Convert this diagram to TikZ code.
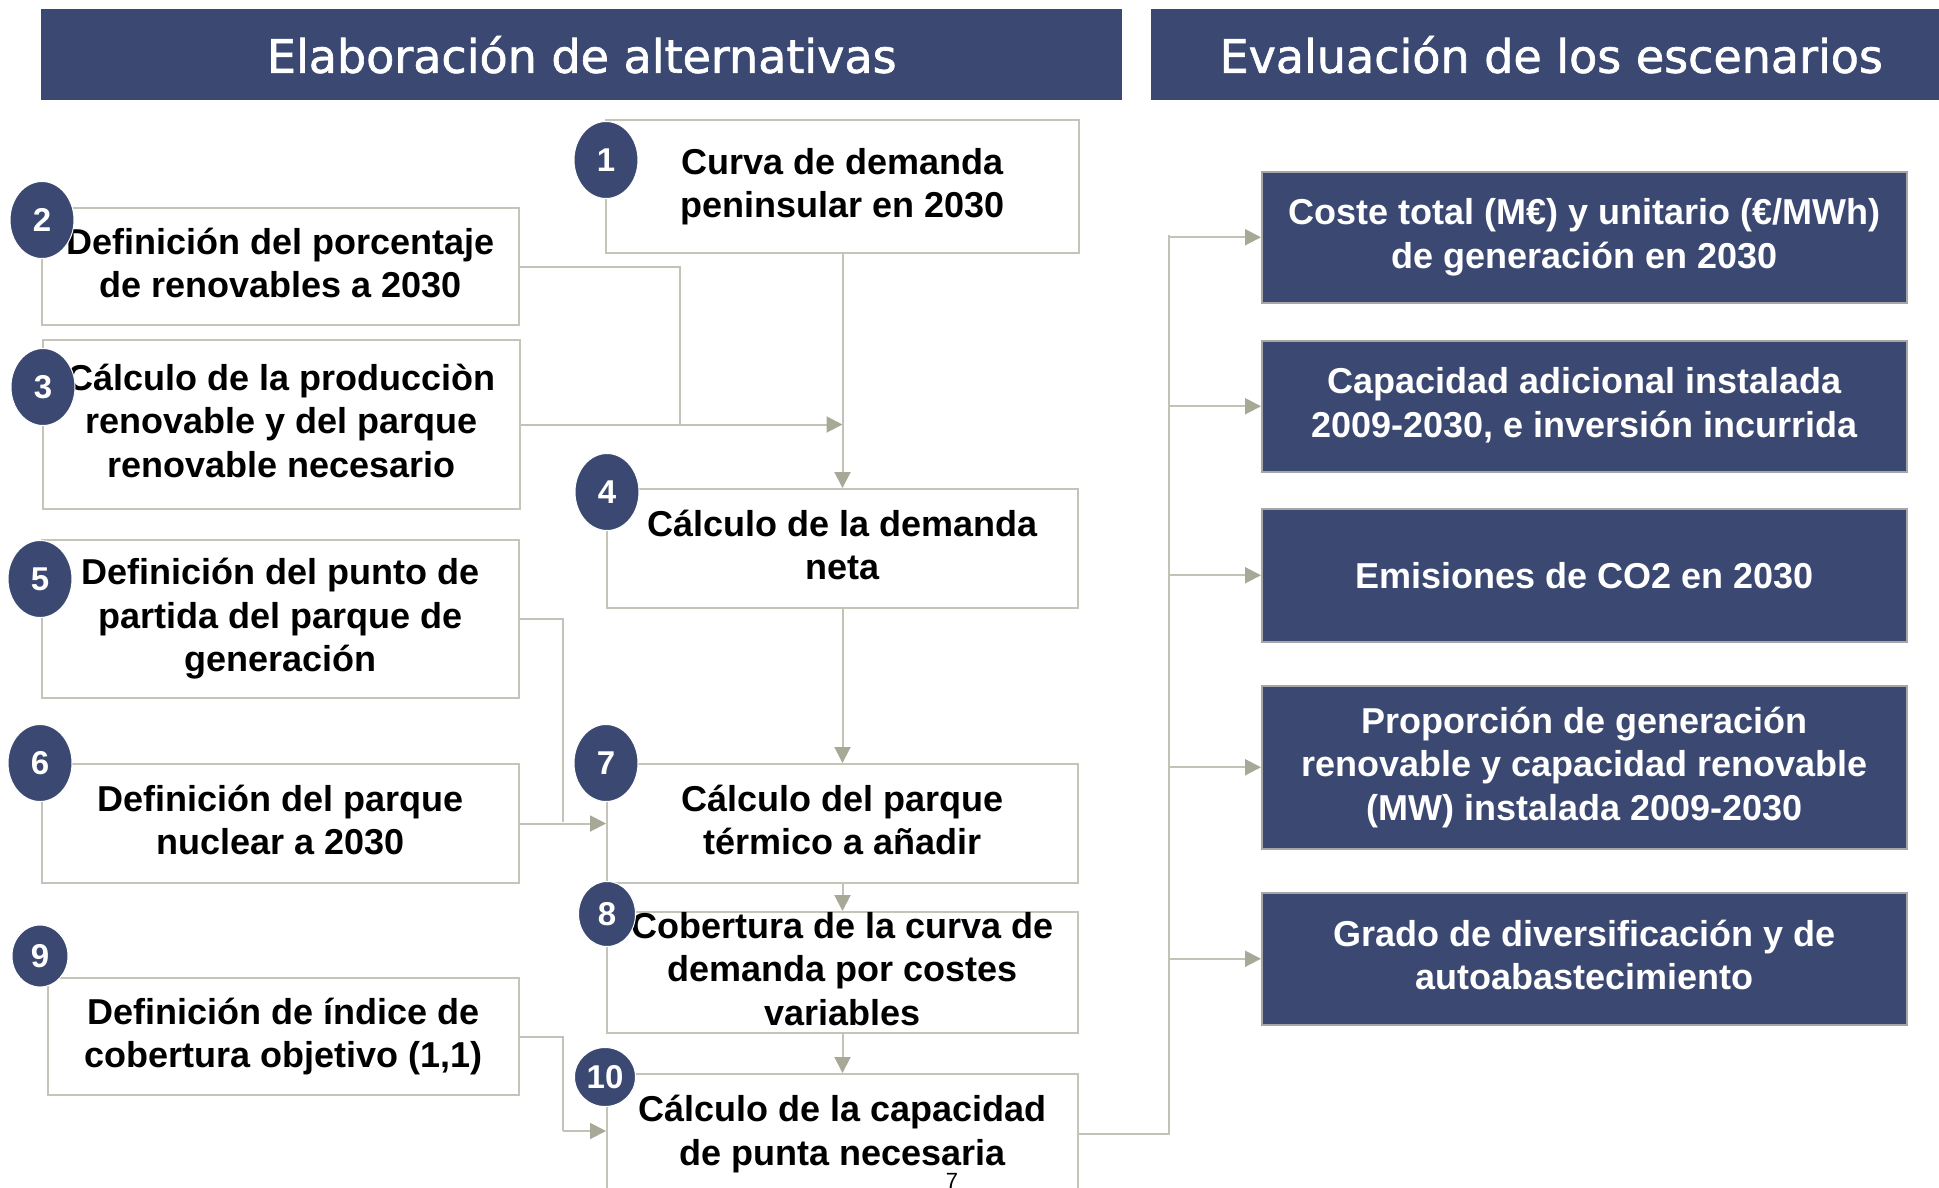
\documentclass[tikz,border=0pt]{standalone}
\usepackage{fontspec}
\setmainfont{Liberation Sans}
\newfontfamily\hdrfont[FakeBold=1.4]{DejaVu Sans}
\usetikzlibrary{shapes.geometric,arrows.meta}
\definecolor{navy}{HTML}{3B4972}
\definecolor{edgegray}{HTML}{C4C4B8}
\definecolor{linegray}{HTML}{C2C2B6}
\definecolor{tipgray}{HTML}{A8A896}
\newcommand{\lnstrut}{\rule[-7.5pt]{0pt}{40.5pt}}
\tikzset{
  hdrbox/.style={fill=navy, draw=none, anchor=north west, inner sep=0pt,
    text=white, font=\hdrfont\fontsize{46}{52}\selectfont},
  txtbase/.style={anchor=north west, inner sep=0pt, align=center,
    font=\bfseries\fontsize{36}{43.5}\selectfont,
    execute at begin node=\lnstrut, execute at end node=\lnstrut},
  wbox/.style={txtbase, fill=white, draw=edgegray, line width=2pt},
  nbox/.style={txtbase, fill=navy, draw=gray!70, line width=1.5pt, text=white, minimum width=645pt},
  numdot/.style={ellipse, fill=navy, draw=white, line width=1pt, inner sep=0pt,
    text=white, font=\bfseries\fontsize{33}{36}\selectfont},
  conn/.style={draw=linegray, line width=2pt},
  arr/.style={conn, -{Triangle[length=16pt, width=16pt, fill=tipgray, color=tipgray]}},
}
\begin{document}
\begin{tikzpicture}[x=1pt, y=-1pt]
\useasboundingbox (0,0) rectangle (1939,1187);
\clip (0,0) rectangle (1939,1187);

% headers
\node[hdrbox, minimum width=1081pt, minimum height=91pt] (h1) at (41,9) {Elaboración de alternativas};
\node[hdrbox, minimum width=800pt, minimum height=91pt] (h2) at (1151,9) {Evaluación de los escenarios};

% left column boxes
\node[wbox, minimum width=477pt, minimum height=117pt] (b2) at (41,207) {Definición del porcentaje\\de renovables a 2030};
\node[wbox, minimum width=477pt, minimum height=169pt] (b3) at (42,339) {Cálculo de la producciòn\\renovable y del parque\\renovable necesario};
\node[wbox, minimum width=477pt, minimum height=158pt] (b5) at (41,539) {Definición del punto de\\partida del parque de\\generación};
\node[wbox, minimum width=477pt, minimum height=119pt] (b6) at (41,763) {Definición del parque\\nuclear a 2030};
\node[wbox, minimum width=471pt, minimum height=117pt] (b9) at (47,977) {Definición de índice de\\cobertura objetivo (1,1)};

% middle column boxes
\node[wbox, minimum width=473pt, minimum height=133pt] (b1) at (605,119) {Curva de demanda\\peninsular en 2030};
\node[wbox, minimum width=471pt, minimum height=119pt] (b4) at (606,488) {Cálculo de la demanda\\neta};
\node[wbox, minimum width=471pt, minimum height=119pt] (b7) at (606,763) {Cálculo del parque\\térmico a añadir};
\node[wbox, minimum width=471pt, minimum height=119pt] (b8) at (606,911) {Cobertura de la curva de\\demanda por costes\\variables};
\node[wbox, minimum width=471pt, minimum height=120pt] (b10) at (606,1073) {Cálculo de la capacidad\\de punta necesaria};

% right column boxes
\node[nbox, minimum height=131pt] (r1) at (1261,171) {Coste total (M€) y unitario (€/MWh)\\de generación en 2030};
\node[nbox, minimum height=131pt] (r2) at (1261,340) {Capacidad adicional instalada\\2009-2030, e inversión incurrida};
\node[nbox, minimum height=133pt] (r3) at (1261,508) {Emisiones de CO2 en 2030};
\node[nbox, minimum height=163pt] (r4) at (1261,685) {Proporción de generación\\renovable y capacidad renovable\\(MW) instalada 2009-2030};
\node[nbox, minimum height=132pt] (r5) at (1261,892) {Grado de diversificación y de\\autoabastecimiento};

% junction coordinates
\coordinate (j23) at (680,424);
\coordinate (j57) at (563,822);
\coordinate (j910) at (563,1131);
\coordinate (jr) at (1169,235);

% connectors
\draw[arr] (b1.south) -- (b4.north);
\draw[conn] (b2.east) -| (j23);
\draw[arr] (b3.east) -- (b3.east -| b1.south);
\draw[arr] (b4.south) -- (b7.north);
\draw[conn] (b5.east) -| (j57);
\draw[arr] (b6.east) -- (b7.west);
\draw[arr] (b7.south) -- (b8.north);
\draw[arr] (b8.south) -- (b10.north);
\draw[conn] (b9.east) -| (j910);
\draw[arr] (j910) -- (j910 -| b10.west);
\draw[conn] (b10.east) -| (jr);
\foreach \r in {r1,r2,r3,r4,r5}{
  \draw[arr] (jr |- \r.west) -- (\r.west);
}

% number markers
\node[numdot, minimum width=64pt, minimum height=77pt] (n1) at (606,160) {1};
\node[numdot, minimum width=64pt, minimum height=77pt] (n2) at (42,220) {2};
\node[numdot, minimum width=64pt, minimum height=77pt] (n3) at (43,387) {3};
\node[numdot, minimum width=64pt, minimum height=77pt] (n4) at (607,492) {4};
\node[numdot, minimum width=64pt, minimum height=77pt] (n5) at (40,579) {5};
\node[numdot, minimum width=64pt, minimum height=77pt] (n6) at (40,763) {6};
\node[numdot, minimum width=64pt, minimum height=77pt] (n7) at (606,763) {7};
\node[numdot, minimum width=57pt, minimum height=65pt] (n8) at (607,914) {8};
\node[numdot, minimum width=56pt, minimum height=62pt] (n9) at (40,956) {9};
\node[numdot, minimum width=61pt, minimum height=59pt] (n10) at (605,1077) {10};

% page number
\node[font=\fontsize{22}{24}\selectfont, inner sep=0pt] (pg) at (952,1181) {7};
\end{tikzpicture}
\end{document}
